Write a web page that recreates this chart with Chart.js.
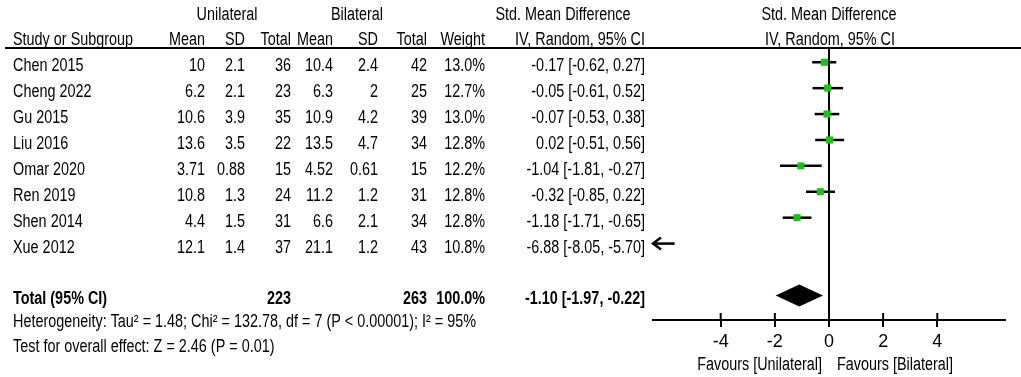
<!DOCTYPE html>
<html>
<head>
<meta charset="utf-8">
<script src="https://cdn.jsdelivr.net/npm/chart.js@4/dist/chart.umd.min.js"></script>
<style>
  html, body { margin: 0; padding: 0; background: #fff; }
  canvas { display: block; }
</style>
</head>
<body>
<canvas id="forest" width="1021" height="377"></canvas>
<script>
// Study rows (top to bottom)
const studies = ['Chen 2015', 'Cheng 2022', 'Gu 2015', 'Liu 2016', 'Omar 2020', 'Ren 2019', 'Shen 2014', 'Xue 2012'];
const uniMean = ['10', '6.2', '10.6', '13.6', '3.71', '10.8', '4.4', '12.1'];
const uniSD = ['2.1', '2.1', '3.9', '3.5', '0.88', '1.3', '1.5', '1.4'];
const uniTotal = [36, 23, 35, 22, 15, 24, 31, 37];
const biMean = ['10.4', '6.3', '10.9', '13.5', '4.52', '11.2', '6.6', '21.1'];
const biSD = ['2.4', '2', '4.2', '4.7', '0.61', '1.2', '2.1', '1.2'];
const biTotal = [42, 25, 39, 34, 15, 31, 34, 43];
const weights = [13.0, 12.7, 13.0, 12.8, 12.2, 12.8, 12.8, 10.8];
const smd = [-0.17, -0.05, -0.07, 0.02, -1.04, -0.32, -1.18, -6.88];
const ciLow = [-0.62, -0.61, -0.53, -0.51, -1.81, -0.85, -1.71, -8.05];
const ciHigh = [0.27, 0.52, 0.38, 0.56, -0.27, 0.22, -0.65, -5.70];

// Pooled result
const totalUni = 223;
const totalBi = 263;
const totalSmd = -1.10;
const totalLow = -1.97;
const totalHigh = -0.22;

// Axis
const xMin = -6.5;
const xMax = 6.5;
const tickValues = [-4, -2, 0, 2, 4];

// No narrow font installed, so Liberation Sans gets squeezed sideways
const FONT = '"Liberation Sans", Arial, sans-serif';
const SQUEEZE = 0.8;
const totalRow = studies.length + 1;

function fmt2(v) { return v.toFixed(2); }
function ciText(m, lo, hi) { return fmt2(m) + ' [' + fmt2(lo) + ', ' + fmt2(hi) + ']'; }

function drawText(ctx, str, x, y, align, bold) {
    ctx.save();
    ctx.font = (bold ? 'bold ' : '') + '18px ' + FONT;
    ctx.textAlign = align;
    ctx.textBaseline = 'middle';
    ctx.fillStyle = '#000';
    ctx.translate(x, y);
    ctx.scale(SQUEEZE, 1);
    ctx.fillText(str, 0, 0);
    ctx.restore();
}

// Lines under the squares: no-effect line, whiskers, diamond
const linesPlugin = {
    id: 'forestLines',
    beforeDatasetsDraw(chart) {
        const ctx = chart.ctx;
        const xs = chart.scales.x;
        const ys = chart.scales.y;
        const area = chart.chartArea;
        ctx.save();
        ctx.strokeStyle = '#000';
        ctx.fillStyle = '#000';

        const x0 = xs.getPixelForValue(0);
        ctx.lineWidth = 2;
        ctx.beginPath();
        ctx.moveTo(x0, area.top);
        ctx.lineTo(x0, area.bottom);
        ctx.stroke();

        // upper half of the axis ticks
        tickValues.forEach(v => {
            const tx = xs.getPixelForValue(v);
            ctx.beginPath();
            ctx.moveTo(tx, area.bottom - 7);
            ctx.lineTo(tx, area.bottom);
            ctx.stroke();
        });

        ctx.lineWidth = 2.5;
        studies.forEach((name, i) => {
            const y = ys.getPixelForValue(i);
            const lo = Math.max(ciLow[i], xMin);
            const hi = Math.min(ciHigh[i], xMax);
            if (hi <= xMin) return;
            const xl = xs.getPixelForValue(lo);
            const xh = xs.getPixelForValue(hi);
            ctx.beginPath();
            ctx.moveTo(xl, y);
            ctx.lineTo(xh, y);
            ctx.stroke();
            if (ciLow[i] < xMin) {
                ctx.beginPath();
                ctx.moveTo(xl + 8, y - 6);
                ctx.lineTo(xl, y);
                ctx.lineTo(xl + 8, y + 6);
                ctx.stroke();
            }
        });

        const dy = ys.getPixelForValue(totalRow);
        ctx.beginPath();
        ctx.moveTo(xs.getPixelForValue(totalLow), dy);
        ctx.lineTo(xs.getPixelForValue(totalSmd), dy - 11);
        ctx.lineTo(xs.getPixelForValue(totalHigh), dy);
        ctx.lineTo(xs.getPixelForValue(totalSmd), dy + 11);
        ctx.closePath();
        ctx.fill();
        ctx.restore();
    }
};

// Table text beside the plot
const tablePlugin = {
    id: 'forestTable',
    afterDraw(chart) {
        const ctx = chart.ctx;
        const ys = chart.scales.y;

        drawText(ctx, 'Unilateral', 227, 15, 'center');
        drawText(ctx, 'Bilateral', 357, 15, 'center');
        drawText(ctx, 'Std. Mean Difference', 563, 15, 'center');
        drawText(ctx, 'Std. Mean Difference', 829, 15, 'center');
        drawText(ctx, 'Study or Subgroup', 13, 40, 'left');
        drawText(ctx, 'Mean', 205, 40, 'right');
        drawText(ctx, 'SD', 245, 40, 'right');
        drawText(ctx, 'Total', 291, 40, 'right');
        drawText(ctx, 'Mean', 333, 40, 'right');
        drawText(ctx, 'SD', 378, 40, 'right');
        drawText(ctx, 'Total', 427, 40, 'right');
        drawText(ctx, 'Weight', 485, 40, 'right');
        drawText(ctx, 'IV, Random, 95% CI', 645, 40, 'right');
        drawText(ctx, 'IV, Random, 95% CI', 830, 40, 'center');

        ctx.save();
        ctx.strokeStyle = '#000';
        ctx.lineWidth = 2;
        ctx.beginPath();
        ctx.moveTo(5, 48);
        ctx.lineTo(1021, 48);
        ctx.stroke();
        ctx.restore();

        studies.forEach((name, i) => {
            const y = ys.getPixelForValue(i) + 4;
            drawText(ctx, name, 13, y, 'left');
            drawText(ctx, uniMean[i], 205, y, 'right');
            drawText(ctx, uniSD[i], 245, y, 'right');
            drawText(ctx, String(uniTotal[i]), 291, y, 'right');
            drawText(ctx, biMean[i], 333, y, 'right');
            drawText(ctx, biSD[i], 378, y, 'right');
            drawText(ctx, String(biTotal[i]), 427, y, 'right');
            drawText(ctx, weights[i].toFixed(1) + '%', 485, y, 'right');
            drawText(ctx, ciText(smd[i], ciLow[i], ciHigh[i]), 645, y, 'right');
        });

        const ty = ys.getPixelForValue(totalRow) + 4;
        drawText(ctx, 'Total (95% CI)', 13, ty, 'left', true);
        drawText(ctx, String(totalUni), 291, ty, 'right', true);
        drawText(ctx, String(totalBi), 427, ty, 'right', true);
        drawText(ctx, '100.0%', 485, ty, 'right', true);
        drawText(ctx, ciText(totalSmd, totalLow, totalHigh), 645, ty, 'right', true);
        drawText(ctx, 'Heterogeneity: Tau\u00b2 = 1.48; Chi\u00b2 = 132.78, df = 7 (P < 0.00001); I\u00b2 = 95%', 13, 322, 'left');
        drawText(ctx, 'Test for overall effect: Z = 2.46 (P = 0.01)', 13, 347, 'left');
        drawText(ctx, 'Favours [Unilateral]', 822, 365, 'right');
        drawText(ctx, 'Favours [Bilateral]', 837, 365, 'left');
    }
};

const points = smd.map((v, i) => ({ x: v, y: i }));

new Chart(document.getElementById('forest'), {
    type: 'scatter',
    data: {
        datasets: [{
            label: 'SMD',
            data: points,
            pointStyle: 'rect',
            backgroundColor: '#19c119',
            borderColor: '#19c119',
            borderWidth: 0,
            pointRadius: ctx => (smd[ctx.dataIndex] < xMin ? 0 : Math.sqrt(weights[ctx.dataIndex]) * 1.4),
            pointHoverRadius: 0
        }]
    },
    options: {
        responsive: false,
        animation: false,
        layout: { padding: { left: 653, right: 16, top: 48, bottom: 0 } },
        plugins: {
            legend: { display: false },
            tooltip: { enabled: false },
            title: { display: false }
        },
        scales: {
            x: {
                type: 'linear',
                min: xMin,
                max: xMax,
                afterBuildTicks: scale => { scale.ticks = tickValues.map(v => ({ value: v })); },
                afterFit: scale => { scale.height = 57; },
                border: { display: true, color: '#000', width: 2 },
                grid: { display: true, drawOnChartArea: false, drawTicks: true, tickLength: 7, color: '#000', lineWidth: 2 },
                ticks: {
                    color: '#000',
                    padding: 4,
                    font: { family: FONT, size: 18 },
                    callback: v => String(v)
                }
            },
            y: {
                type: 'linear',
                display: false,
                reverse: true,
                min: -0.55,
                max: 9.95
            }
        }
    },
    plugins: [linesPlugin, tablePlugin]
});
</script>
</body>
</html>
